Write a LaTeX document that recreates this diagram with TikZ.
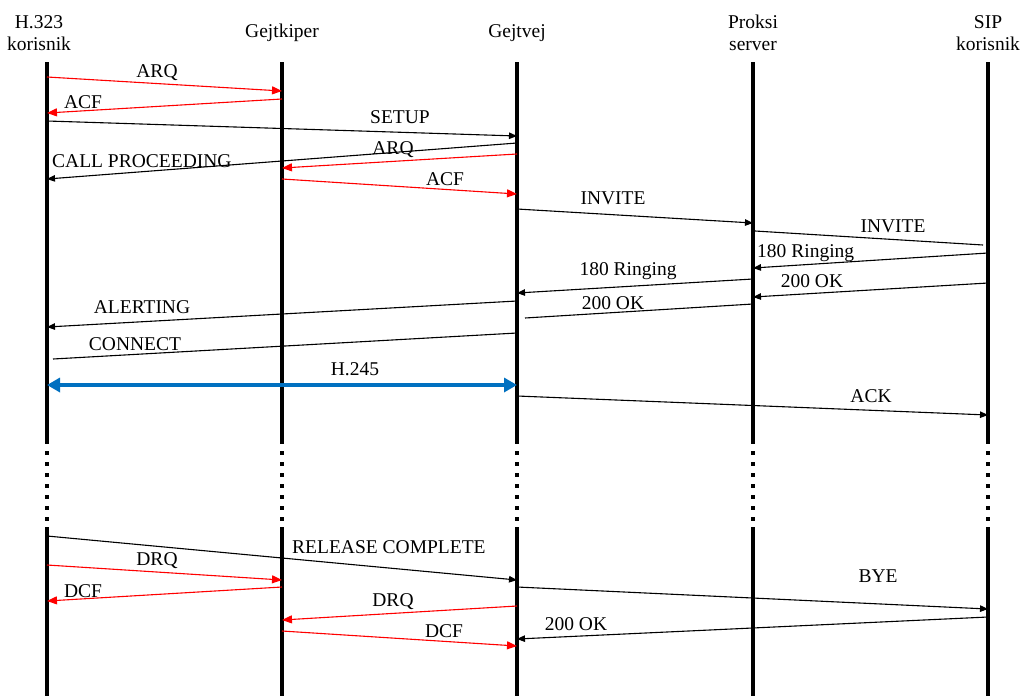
\documentclass[tikz,border=0pt]{standalone}
\usepackage{fontspec}
\setmainfont{Liberation Serif}
\usetikzlibrary{arrows.meta}
\definecolor{msgred}{RGB}{255,0,0}
\definecolor{msgblue}{RGB}{0,112,192}
\tikzset{
  lbl/.style={font=\fontsize{19.5}{22}\selectfont, inner sep=0pt},
  head/.style={font=\fontsize{19.5}{22}\selectfont, align=center, inner sep=0pt},
  life/.style={line width=3.5pt},
  lifedot/.style={line width=3.5pt, dash pattern=on 4pt off 7pt},
  blk/.style={line width=1.1pt, black, -{Triangle[length=8pt,width=6.5pt]}},
  blkn/.style={line width=1.1pt, black},
  redm/.style={line width=1.1pt, msgred, -{Triangle[length=10pt,width=8pt]}},
  bluem/.style={line width=4pt, msgblue, {Triangle[length=13pt,width=14pt]}-{Triangle[length=13pt,width=14pt]}}
}
\begin{document}
\begin{tikzpicture}[x=1pt,y=-1pt]
\useasboundingbox (0,0) rectangle (1024,696);
% headers
\node[head] (h1) at (39,33) {H.323\\korisnik};
\node[head] (h2) at (282,33) {Gejtkiper};
\node[head] (h3) at (517,33) {Gejtvej};
\node[head] (h4) at (753,33) {Proksi\\server};
\node[head] (h5) at (988,33) {SIP\\korisnik};
% lifelines
\foreach \n/\x in {1/47,2/282,3/517,4/753,5/988}{
  \coordinate (t\n) at (\x,62);
  \coordinate (a\n) at (\x,440);
  \coordinate (b\n) at (\x,527);
  \coordinate (e\n) at (\x,696);
  \draw[life] (t\n) -- (a\n);
  \draw[lifedot] (a\n) -- (b\n);
  \draw[life] (b\n) -- (e\n);
}
% message end points
\coordinate (m1s) at (47,77);   \coordinate (m1e) at (282,91);
\coordinate (m2s) at (282,99);  \coordinate (m2e) at (47,113);
\coordinate (m3s) at (47,121);  \coordinate (m3e) at (517,136);
\coordinate (m4s) at (517,143); \coordinate (m4e) at (47,179);
\coordinate (m5s) at (517,154); \coordinate (m5e) at (282,168);
\coordinate (m6s) at (282,179); \coordinate (m6e) at (517,194);
\coordinate (m7s) at (517,209); \coordinate (m7e) at (753,223);
\coordinate (m8s) at (755,231); \coordinate (m8e) at (983,245);
\coordinate (m9s) at (988,253); \coordinate (m9e) at (753,268);
\coordinate (m10s) at (753,279); \coordinate (m10e) at (517,293);
\coordinate (m11s) at (988,283); \coordinate (m11e) at (753,297);
\coordinate (m12s) at (517,301); \coordinate (m12e) at (47,327);
\coordinate (m13s) at (753,304); \coordinate (m13e) at (525,318);
\coordinate (m14s) at (517,333); \coordinate (m14e) at (53,359);
\coordinate (m15s) at (47,385); \coordinate (m15e) at (517,385);
\coordinate (m16s) at (517,396); \coordinate (m16e) at (988,415);
\coordinate (m17s) at (47,536); \coordinate (m17e) at (517,580);
\coordinate (m18s) at (47,565); \coordinate (m18e) at (282,580);
\coordinate (m19s) at (282,587); \coordinate (m19e) at (47,601);
\coordinate (m20s) at (517,587); \coordinate (m20e) at (988,609);
\coordinate (m21s) at (517,606); \coordinate (m21e) at (282,620);
\coordinate (m22s) at (282,631); \coordinate (m22e) at (517,646);
\coordinate (m23s) at (988,617); \coordinate (m23e) at (517,639);
% messages
\draw[redm] (m1s) -- (m1e);
\draw[redm] (m2s) -- (m2e);
\draw[blk] (m3s) -- (m3e);
\draw[blk] (m4s) -- (m4e);
\draw[redm] (m5s) -- (m5e);
\draw[redm] (m6s) -- (m6e);
\draw[blk] (m7s) -- (m7e);
\draw[blkn] (m8s) -- (m8e);
\draw[blk] (m9s) -- (m9e);
\draw[blk] (m10s) -- (m10e);
\draw[blk] (m11s) -- (m11e);
\draw[blk] (m12s) -- (m12e);
\draw[blkn] (m13s) -- (m13e);
\draw[blkn] (m14s) -- (m14e);
\draw[bluem] (m15s) -- (m15e);
\draw[blk] (m16s) -- (m16e);
\draw[blk] (m17s) -- (m17e);
\draw[redm] (m18s) -- (m18e);
\draw[redm] (m19s) -- (m19e);
\draw[blk] (m20s) -- (m20e);
\draw[redm] (m21s) -- (m21e);
\draw[redm] (m22s) -- (m22e);
\draw[blk] (m23s) -- (m23e);
% labels
\node[lbl] (l1) at (157,73) {ARQ};
\node[lbl] (l2) at (83,102) {ACF};
\node[lbl] (l3) at (400,117) {SETUP};
\node[lbl, anchor=west] (l4) at (52,161) {CALL PROCEEDING};
\node[lbl] (l5) at (393,150) {ARQ};
\node[lbl] (l6) at (445,179) {ACF};
\node[lbl] (l7) at (613,198) {INVITE};
\node[lbl] (l8) at (893,226) {INVITE};
\node[lbl, anchor=west] (l9) at (757,253) {180 Ringing};
\node[lbl] (l10) at (628,271) {180 Ringing};
\node[lbl] (l11) at (812,281) {200 OK};
\node[lbl] (l12) at (142,307) {ALERTING};
\node[lbl] (l13) at (613,303) {200 OK};
\node[lbl] (l14) at (135,344) {CONNECT};
\node[lbl] (l15) at (355,369) {H.245};
\node[lbl] (l16) at (871,396) {ACK};
\node[lbl, anchor=west] (l17) at (292,547) {RELEASE COMPLETE};
\node[lbl] (l18) at (157,561) {DRQ};
\node[lbl] (l19) at (83,591) {DCF};
\node[lbl] (l20) at (878,576) {BYE};
\node[lbl] (l21) at (393,602) {DRQ};
\node[lbl] (l22) at (444,631) {DCF};
\node[lbl] (l23) at (576,624) {200 OK};
\end{tikzpicture}
\end{document}
